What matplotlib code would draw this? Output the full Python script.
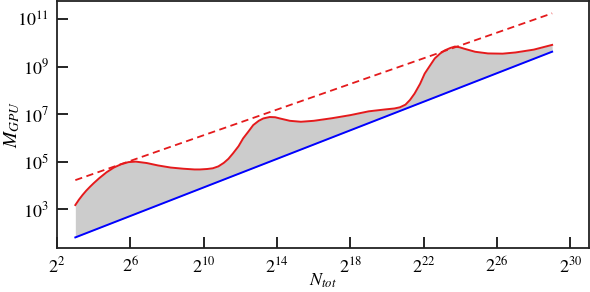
import numpy as np
import matplotlib
matplotlib.use("Agg")
import matplotlib.pyplot as plt

plt.rcParams["font.family"] = ["Liberation Serif", "DejaVu Serif"]
plt.rcParams["mathtext.fontset"] = "stix"

# exponent of N_tot (log2) and log10 of M_GPU
curve_pow = [3.0, 3.2, 3.4, 3.6, 3.8, 4.0, 4.3, 4.7, 5.1, 5.5, 5.9, 6.3, 6.9,
             7.5, 8.2, 8.9, 9.5, 9.8, 10.2, 10.5, 10.8, 11.1, 11.35, 11.6,
             11.9, 12.15, 12.45, 12.7, 13.0, 13.25, 13.6, 13.9, 14.15, 14.7,
             15.3, 16.0, 17.0, 18.0, 19.0, 19.9, 20.4, 20.7, 21.0, 21.25, 21.5,
             21.8, 22.05, 22.35, 22.6, 22.9, 23.15, 23.45, 23.7, 23.95, 24.2,
             24.8, 25.5, 26.3, 27.0, 28.0, 29.0]
curve_log = [3.17, 3.40, 3.60, 3.78, 3.94, 4.09, 4.30, 4.55, 4.75, 4.89, 4.98,
             5.00, 4.94, 4.84, 4.75, 4.70, 4.67, 4.67, 4.69, 4.72, 4.80, 4.95,
             5.12, 5.35, 5.65, 5.98, 6.28, 6.54, 6.72, 6.82, 6.88, 6.87, 6.82,
             6.72, 6.68, 6.72, 6.83, 6.96, 7.12, 7.20, 7.24, 7.29, 7.40, 7.60,
             7.87, 8.28, 8.71, 9.06, 9.35, 9.56, 9.69, 9.79, 9.85, 9.82, 9.76,
             9.63, 9.56, 9.55, 9.60, 9.72, 9.92]

# lower bound: 8 bytes per element
lower_pow = [3, 29]
lower_factor = 8

# upper dashed bound
upper_pow = [3, 29]
upper_log = [4.22, 11.25]

x_ticks_pow = [2, 6, 10, 14, 18, 22, 26, 30]
y_ticks_pow = [3, 5, 7, 9, 11]

red = "#e41a1c"
blue = "#0000ff"

fig = plt.figure(figsize=(5.9, 2.92), dpi=100)
ax = fig.add_axes([0.0966, 0.1507, 0.9014, 0.8459])

N = 2.0 ** np.array(curve_pow)
M = 10.0 ** np.array(curve_log)
M_low = lower_factor * N

ax.fill_between(N, M_low, M, color="#cccccc", linewidth=0)
ax.plot(2.0 ** np.array(lower_pow), lower_factor * 2.0 ** np.array(lower_pow),
        color=blue, lw=1.4)
ax.plot(2.0 ** np.array(upper_pow), 10.0 ** np.array(upper_log),
        color=red, lw=1.3, ls=(0, (4, 2.5)))
ax.plot(N, M, color=red, lw=1.4, solid_joinstyle="round")

ax.set_xscale("log", base=2)
ax.set_yscale("log", base=10)
ax.set_xlim(2 ** 2, 2 ** 31)
ax.set_ylim(10 ** 1.36, 10 ** 11.77)

ax.set_xticks([2.0 ** p for p in x_ticks_pow])
ax.set_xticklabels([f"$2^{{{p}}}$" for p in x_ticks_pow])
ax.set_yticks([10.0 ** p for p in y_ticks_pow])
ax.set_yticklabels([f"$10^{{{p}}}$" for p in y_ticks_pow])
ax.minorticks_off()
ax.tick_params(direction="in", length=8, width=1.2, labelsize=13, pad=6)

for s in ax.spines.values():
    s.set_linewidth(1.3)
    s.set_color("#222222")

ax.set_xlabel("$N_{tot}$", fontsize=13)
ax.set_ylabel("$M_{GPU}$", fontsize=14)
ax.xaxis.set_label_coords(0.5, -0.095)
ax.yaxis.set_label_coords(-0.066, 0.5)

fig.savefig("out.png", dpi=100)
